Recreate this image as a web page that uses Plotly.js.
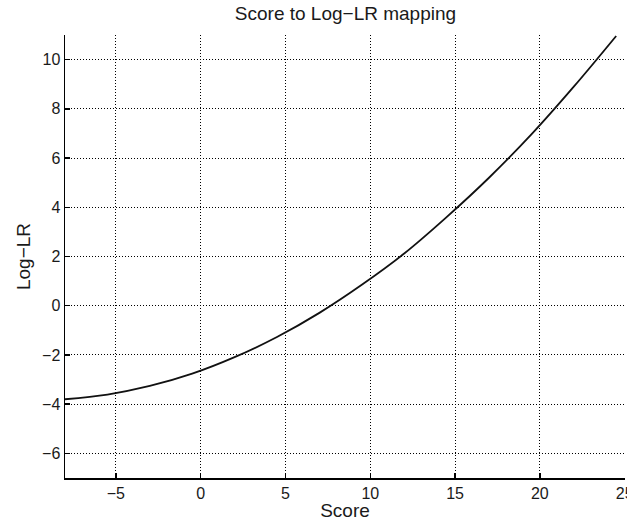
<!DOCTYPE html>
<html>
<head>
<meta charset="utf-8">
<script src="https://cdn.plot.ly/plotly-3.0.1.min.js"></script>
<style>
  html, body { margin: 0; padding: 0; background: #fff; }
  #chart { width: 627px; height: 521px; }
</style>
</head>
<body>
<div id="chart"></div>
<script>
// Calibration curve: raw detector score -> log-likelihood ratio
const score = [-8, -5.5, -3, -0.5, 2, 4.5, 7, 9.5, 12, 14.5, 17, 19.5, 22, 24.5];
const logLR = [-3.80, -3.61, -3.26, -2.76, -2.09, -1.27, -0.29, 0.85, 2.12, 3.6, 5.2, 6.96, 8.9, 10.96];

const xTicks = [-5, 0, 5, 10, 15, 20, 25];
const yTicks = [-6, -4, -2, 0, 2, 4, 6, 8, 10];

const family = 'Liberation Sans, Arial, sans-serif';
const tickFont = { family: family, size: 16, color: '#1a1a1a' };
const labelFont = { family: family, size: 19, color: '#1a1a1a' };

const trace = {
  x: score,
  y: logLR,
  mode: 'lines',
  line: { color: '#111', width: 1.8, shape: 'spline', smoothing: 1 },
  hoverinfo: 'skip'
};

const axisCommon = {
  showline: true,
  linecolor: '#000',
  linewidth: 1.5,
  ticks: 'inside',
  ticklen: 5,
  tickwidth: 1.5,
  tickcolor: '#000',
  showgrid: true,
  gridcolor: '#000',
  gridwidth: 1,
  griddash: '1px,2px',
  zeroline: false,
  mirror: false,
  tickfont: tickFont
};

const layout = {
  width: 627,
  height: 521,
  margin: { l: 65, r: 2, t: 35, b: 43 },
  paper_bgcolor: '#fff',
  plot_bgcolor: '#fff',
  showlegend: false,
  font: tickFont,
  title: {
    text: 'Score to Log\u2212LR mapping',
    font: labelFont,
    x: 0.551, xanchor: 'center',
    y: 0.974, yanchor: 'middle'
  },
  xaxis: Object.assign({}, axisCommon, {
    range: [-8, 25.02],
    tickvals: xTicks,
    ticklabeloverflow: 'allow',
    title: { text: 'Score', font: labelFont, standoff: 2 }
  }),
  yaxis: Object.assign({}, axisCommon, {
    range: [-7, 11],
    tickvals: yTicks,
    title: { text: 'Log\u2212LR', font: labelFont, standoff: 6 }
  })
};

Plotly.newPlot('chart', [trace], layout, { staticPlot: true, displayModeBar: false });
</script>
</body>
</html>
